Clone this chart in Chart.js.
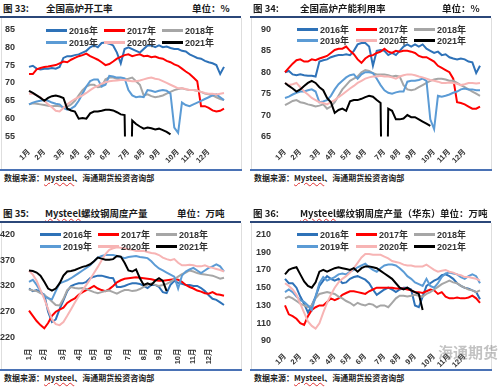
<!DOCTYPE html>
<html>
<head>
<meta charset="utf-8">
<script src="https://cdn.jsdelivr.net/npm/chart.js@4.4.1/dist/chart.umd.min.js"></script>
<style>
  body { margin: 0; background: #fff; }
  #page { position: relative; width: 500px; height: 387px; overflow: hidden; }
  .abs { position: absolute; white-space: nowrap; }
  .ttl { font: bold 9.5px "Noto Sans CJK SC", sans-serif; color: #1a1a1a; line-height: 12px; }
  .src { font: bold 8px "Noto Sans CJK SC", sans-serif; color: #222; line-height: 10px; }
  .bar-top { height: 2px; background: #2b4779; }
  .bar-bot { height: 2px; background: #4a72b5; }
  .side { width: 1px; background: #dedede; }
  .leg { font: bold 9px "Liberation Sans", "Noto Sans CJK SC", sans-serif; color: #333; line-height: 12px; }
  .leg i { display: inline-block; width: 21px; height: 3px; vertical-align: middle; margin-right: 2px; position: relative; top: -1px; }
  .squig { text-decoration: underline wavy #e03030; text-decoration-thickness: 1px; text-underline-offset: 1px; }
  .mark { font: bold 15px "Noto Sans CJK SC", sans-serif; color: rgba(120,120,120,0.45); }
  canvas { position: absolute; }
</style>
</head>
<body>
<div id="page"></div>
<script>
// 横轴：周度，标月份
const months = ['1月', '2月', '3月', '4月', '5月', '6月', '7月', '8月', '9月', '10月', '11月', '12月'];
const monthWeek = [0, 4, 9, 13, 17, 21, 26, 30, 34, 39, 43, 47];
const weekCount = 52;
const years = ['2016年', '2017年', '2018年', '2019年', '2020年', '2021年'];

// 纵轴刻度
const ticks33 = [55, 60, 65, 70, 75, 80, 85];
const ticks34 = [65, 70, 75, 80, 85, 90];
const ticks35 = [220, 270, 320, 370, 420];
const ticks36 = [90, 110, 130, 150, 170, 190, 210];

// 图33 全国高炉开工率 (%)
const rate16 = [74.5,74.8,74.0,73.8,74.0,74.0,74.2,74.0,74.5,77.0,77.5,77.5,77.8,78.0,78.5,79.0,80.0,80.5,80.0,81.2,81.3,81.0,80.5,78.5,75.5,79.5,80.0,79.5,79.0,78.5,79.5,80.5,80.5,80.0,80.5,80.0,80.2,79.8,79.5,79.5,79.0,78.8,78.0,77.5,77.0,76.8,76.2,75.8,75.5,75.0,72.5,74.5];
const rate17 = [72.5,72.5,73.8,74.2,74.5,74.6,74.8,75.0,75.5,76.0,75.8,76.5,77.0,77.5,77.8,78.2,77.5,77.0,76.5,75.8,75.0,75.3,76.0,76.8,77.3,77.8,78.0,77.5,77.8,78.0,77.5,77.6,77.2,77.4,77.0,76.8,76.2,75.8,75.2,74.8,74.0,73.2,72.5,71.5,70.5,63.5,63.5,63.0,62.3,62.0,62.2,62.8];
const rate18 = [64.0,64.3,64.2,64.0,63.8,63.6,63.5,63.6,63.5,63.2,63.3,64.0,65.0,66.5,68.0,69.0,69.5,69.5,68.8,69.0,71.0,71.5,71.5,71.2,71.0,71.0,71.2,71.5,70.5,69.5,66.5,66.8,66.3,66.0,66.2,66.5,67.0,67.5,68.0,68.3,68.5,68.2,68.0,68.0,67.8,67.5,67.0,66.8,66.5,66.0,65.5,65.2];
const rate19 = [64.0,64.5,64.8,65.0,65.2,65.0,64.5,64.2,64.0,63.0,62.5,62.8,63.5,65.0,67.0,69.0,70.5,71.0,71.0,69.0,69.5,72.0,71.8,71.5,71.5,71.3,68.0,66.5,66.0,66.2,66.0,68.0,67.8,67.5,67.8,68.0,67.8,67.0,57.5,56.0,64.5,63.8,63.5,64.0,64.5,65.0,65.5,66.0,66.5,66.8,66.0,65.2];
const rate20 = [67.0,67.0,66.5,66.0,65.0,64.0,63.2,62.2,62.0,63.0,64.0,64.8,65.5,66.0,66.5,67.2,68.0,68.7,69.2,69.8,70.2,70.5,70.6,70.7,70.8,70.8,70.6,70.5,70.5,70.7,71.0,71.3,71.5,71.2,71.0,70.5,70.0,69.5,69.0,68.5,68.5,68.3,68.0,68.0,67.8,67.5,67.2,67.0,67.0,66.8,67.0,67.2];
const rate21 = [67.8,67.2,66.5,65.8,65.0,65.8,66.3,66.5,66.2,65.8,62.8,62.3,62.0,60.0,60.2,60.0,61.5,62.0,62.0,62.2,62.5,62.5,62.3,61.8,61.2,61.0,0,59.5,58.5,57.8,57.2,57.5,57.3,57.0,57.2,56.8,56.3,55.6];

// 图34 全国高炉产能利用率 (%)
const util16 = [80.0,80.3,79.5,79.3,79.5,79.3,79.2,79.2,79.0,82.5,82.8,83.0,83.5,83.8,84.0,84.0,84.2,84.0,85.0,86.5,86.8,86.8,86.0,81.5,85.0,85.2,85.0,84.0,84.5,84.0,85.0,86.0,86.5,86.0,86.5,86.0,86.5,85.5,85.0,84.5,84.8,84.0,84.2,83.5,83.2,83.0,83.2,83.0,82.5,82.3,79.8,81.5];
const util17 = [80.0,81.0,82.0,82.8,83.0,82.5,82.5,83.0,82.8,83.2,83.5,83.8,84.5,85.2,85.5,85.5,86.0,85.0,84.2,83.0,82.2,83.2,83.8,84.0,84.5,84.8,85.5,84.8,84.5,85.0,84.8,85.0,85.0,84.8,84.5,83.8,83.5,83.5,83.0,82.5,81.5,81.0,80.5,80.0,78.5,73.0,72.8,72.5,72.0,71.5,71.5,72.0];
const util18 = [72.3,72.8,73.3,73.5,73.0,72.8,72.5,72.3,72.0,72.2,72.5,71.5,72.0,73.0,74.5,76.0,77.0,78.0,78.5,79.0,80.0,80.5,80.3,79.8,79.5,79.5,79.5,79.3,79.0,79.2,79.0,77.0,76.0,75.8,76.0,76.5,77.0,77.5,78.0,78.3,78.5,78.5,78.3,78.0,78.0,77.5,77.0,76.5,76.0,75.5,75.0,74.5];
const util19 = [74.0,74.3,74.8,75.2,75.5,75.5,75.8,76.0,75.5,73.0,73.2,73.5,74.5,76.0,77.2,78.0,78.8,79.3,79.5,78.5,79.5,80.0,80.0,79.8,78.5,77.0,75.8,75.2,75.0,75.3,75.5,75.5,77.8,78.0,78.0,78.2,78.5,78.0,69.0,66.7,74.5,74.3,74.5,74.8,75.2,75.5,76.0,76.2,76.0,76.0,75.8,75.8];
const util20 = [77.5,77.0,77.2,77.5,76.5,75.5,74.8,74.0,73.5,73.0,72.8,72.5,73.0,73.5,74.2,74.8,75.5,76.2,76.8,77.5,78.0,78.5,78.8,79.0,79.0,79.2,79.0,79.0,78.8,78.5,79.0,79.3,79.5,79.5,79.3,79.0,78.8,78.5,78.2,78.0,77.8,77.5,77.5,77.6,77.5,77.3,77.0,77.2,77.5,77.5,77.4,77.5];
const util21 = [77.5,76.8,76.2,75.5,76.0,76.8,77.5,78.0,77.5,76.5,75.8,74.0,73.0,70.5,71.2,71.5,71.0,73.2,73.5,73.5,73.8,74.2,74.5,74.3,73.5,72.8,0,71.5,71.0,69.0,69.0,69.2,70.0,69.5,69.5,69.0,68.5,68.0,67.5];

// 图35 螺纹钢周度产量 (万吨)
const rebar16 = [315,310,312,307,303,270,250,255,275,292,310,320,323,325,325,328,335,338,340,340,338,336,335,318,318,320,323,325,325,324,320,316,322,322,318,308,306,322,330,326,324,322,322,320,320,316,310,302,295,293,288,283];
const rebar17 = [272,262,252,244,238,248,262,270,274,278,287,292,296,303,308,312,316,320,315,312,310,314,320,327,331,334,335,336,337,336,335,334,333,331,330,330,331,332,333,332,328,322,318,315,311,309,306,305,308,304,303,301];
const rebar18 = [313,311,310,306,302,297,290,283,282,295,312,318,316,315,316,314,311,308,306,308,310,311,308,305,309,312,312,310,311,314,318,322,325,322,320,322,324,328,333,338,343,346,350,348,345,343,342,341,340,337,334,336];
const rebar19 = [328,332,322,310,300,296,294,310,325,328,331,335,340,345,350,355,360,368,375,378,380,380,380,378,376,374,376,377,378,376,375,374,368,360,354,350,346,342,338,315,340,348,352,355,350,345,350,355,358,362,358,348];
const rebar20 = [350,342,330,312,295,275,255,246,244,250,262,275,288,300,312,322,333,345,357,370,382,390,393,395,394,393,391,390,388,388,388,386,384,383,380,375,372,370,372,365,360,360,361,360,358,358,360,357,355,353,351,348];
const rebar21 = [350,349,346,340,328,315,311,315,325,340,348,349,351,354,357,359,362,368,375,373,371,371,372,378,377,365,350,348,352,335,322,325,322,330,335,330,310];

// 图36 螺纹钢周度产量（华东）(万吨)
const east16 = [160,155,155,150,140,132,122,130,140,152,158,163,160,158,160,155,156,160,162,163,161,159,155,148,142,145,148,150,148,145,148,150,150,148,130,128,140,152,155,158,160,164,165,163,160,155,152,150,149,147,145,137];
const east17 = [130,120,118,115,110,108,118,125,128,130,130,134,138,136,138,142,144,146,146,145,144,143,146,148,150,150,150,150,150,149,149,149,148,147,145,145,144,146,148,147,143,145,140,138,138,139,138,138,139,141,138,133];
const east18 = [138,140,138,135,132,130,128,130,138,143,144,145,144,143,140,138,135,133,130,133,131,130,132,131,128,130,130,128,133,138,141,141,140,141,142,141,140,143,145,148,151,154,156,158,156,155,152,150,148,147,145,147];
const east19 = [145,148,145,140,136,134,130,125,140,155,162,158,160,162,165,166,165,168,170,173,175,177,173,170,168,172,175,176,176,175,172,168,163,160,156,154,152,160,152,150,155,162,166,167,166,165,162,160,163,165,163,155];
const east20 = [155,152,148,142,132,122,112,107,104,110,122,133,142,150,156,160,163,167,172,178,184,188,188,187,187,187,185,183,180,179,178,176,175,175,174,174,174,176,173,170,168,169,170,168,167,165,164,162,162,161,160,158];
const east21 = [165,170,172,173,165,157,152,150,156,168,170,168,170,172,173,172,171,170,172,168,172,174,174,173,172,169,166,163,160,155,150,148,150,147,145,143,125];

const yearColors = ['#2e72b8', '#ff0000', '#a6a6a6', '#5b9bd5', '#f7b4b4', '#000000'];

Chart.defaults.font.family = '"Liberation Sans", "Noto Sans CJK SC", sans-serif';

const page = document.getElementById('page');

function put(cls, x, y, html, css) {
    const d = document.createElement('div');
    d.className = 'abs ' + cls;
    d.style.left = x + 'px';
    d.style.top = y + 'px';
    if (html != null) d.innerHTML = html;
    Object.assign(d.style, css || {});
    page.appendChild(d);
    return d;
}

function weekLabels() {
    const labels = new Array(weekCount).fill('');
    monthWeek.forEach((w, i) => { labels[w] = months[i]; });
    return labels;
}

const mysteel = '<span class="squig">Mysteel</span>';
const source = '数据来源：' + mysteel + '、海通期货投资咨询部';

// 四个面板的版式
const panels = [
    { fig: '图 33:', name: '全国高炉开工率', unit: '单位：%', x: 0, y: 0, nameX: 46, unitX: 192,
      cv: { x: 0, y: 18, w: 240, h: 150 }, plot: { left: 29, right: 224, top: 25.5, bottom: 136.5 },
      rot: 45, legX: [69, 127, 185], legY: [31, 43], series: [rate16, rate17, rate18, rate19, rate20, rate21], ticks: ticks33 },
    { fig: '图 34:', name: '全国高炉产能利用率', unit: '单位：%', x: 250, y: 0, nameX: 50, unitX: 192,
      cv: { x: 250, y: 18, w: 240, h: 150 }, plot: { left: 285, right: 480, top: 25, bottom: 136.5 },
      rot: 45, legX: [320, 379, 437], legY: [30, 41], series: [util16, util17, util18, util19, util20, util21], ticks: ticks34 },
    { fig: '图 35:', name: mysteel + '螺纹钢周度产量', unit: '单位：万吨', x: 0, y: 205, nameX: 45, unitX: 177,
      cv: { x: 0, y: 223, w: 240, h: 145 }, plot: { left: 29, right: 224, top: 234.3, bottom: 337.5 },
      rot: 90, legX: [63, 121, 179], legY: [235, 247], series: [rebar16, rebar17, rebar18, rebar19, rebar20, rebar21], ticks: ticks35 },
    { fig: '图 36:', name: mysteel + '螺纹钢周度产量（华东）', unit: '单位：万吨', x: 250, y: 205, nameX: 50, unitX: 190,
      cv: { x: 250, y: 223, w: 240, h: 145 }, plot: { left: 285, right: 480, top: 229, bottom: 341 },
      rot: 45, legX: [320, 379, 437], legY: [235, 247], series: [east16, east17, east18, east19, east20, east21], ticks: ticks36 }
];

function drawPanel(p) {
    const top = p.y;
    put('ttl', p.x + 3, top + 2, p.fig);
    put('ttl', p.x + p.nameX, top + 2, p.name);
    put('ttl', p.x + p.unitX, top + 2, p.unit);
    put('bar-top', p.x, top + 16, null, { width: '241px' });
    const bottom = p.cv.y + p.cv.h + 1;
    put('bar-bot', p.x, bottom, null, { width: '242px' });
    put('src', p.x + 4, bottom + 4, source);
    put('side', p.x + 1, top + 18, null, { height: (bottom - top - 18) + 'px' });
    put('side', p.x + 241, top + 18, null, { height: (bottom - top - 18) + 'px' });

    const cv = document.createElement('canvas');
    cv.width = p.cv.w;
    cv.height = p.cv.h;
    cv.style.left = p.cv.x + 'px';
    cv.style.top = p.cv.y + 'px';
    page.appendChild(cv);

    const yWidth = p.plot.left - p.cv.x;
    const xHeight = p.cv.y + p.cv.h - p.plot.bottom;

    new Chart(cv, {
        type: 'line',
        data: {
            labels: weekLabels(),
            datasets: p.series.map((s, i) => ({
                label: years[i],
                data: s,
                borderColor: yearColors[i],
                borderWidth: 2,
                pointRadius: 0,
                tension: 0,
                fill: false,
                order: years.length - i
            }))
        },
        options: {
            responsive: false,
            animation: false,
            devicePixelRatio: 1,
            layout: { padding: { top: p.plot.top - p.cv.y, right: p.cv.x + p.cv.w - p.plot.right, bottom: 0, left: 0 } },
            plugins: { legend: { display: false }, tooltip: { enabled: false } },
            scales: {
                x: {
                    grid: { display: false },
                    border: { display: false },
                    ticks: { autoSkip: false, minRotation: p.rot, maxRotation: p.rot, padding: 3, color: '#333',
                             font: { size: 7.5, weight: 'bold' } },
                    afterFit: (s) => { s.height = xHeight; }
                },
                y: {
                    min: p.ticks[0],
                    max: p.ticks[p.ticks.length - 1],
                    grid: { display: false },
                    border: { display: false },
                    ticks: { stepSize: p.ticks[1] - p.ticks[0], padding: 6, color: '#333',
                             font: { size: 9, weight: 'bold' } },
                    afterFit: (s) => { s.width = yWidth; }
                }
            }
        }
    });

    // 图例叠在绘图区内
    years.forEach((yr, i) => {
        const col = i % 3, row = Math.floor(i / 3);
        put('leg', p.legX[col] - 23, p.legY[row] - 6,
            '<i style="background:' + yearColors[i] + '"></i>' + yr);
    });
}

panels.forEach(drawPanel);

put('mark', 438, 341, '海通期货');
</script>
</body>
</html>
